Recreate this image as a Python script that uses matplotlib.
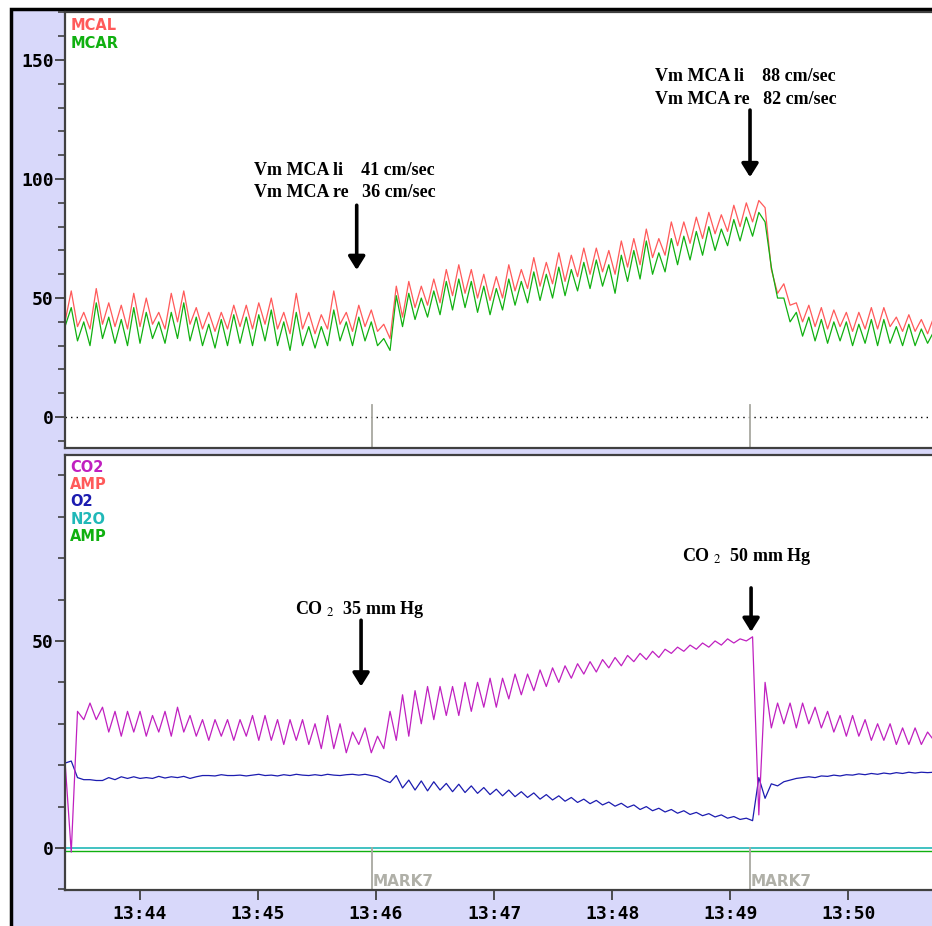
import matplotlib
matplotlib.use("Agg")
import matplotlib.pyplot as plt
from matplotlib.patches import Rectangle
from matplotlib.ticker import MultipleLocator, FuncFormatter
import numpy as np

# Muestreo: un valor cada medio ciclo respiratorio (minutos desde las 13:00)
T0 = 43.364
DT = 0.05297

# Velocidad media ACM izquierda / derecha (cm/s)
mcal = [40, 53, 38, 44, 37, 54, 39, 48, 38, 47,
        37, 52, 38, 50, 39, 44, 37, 52, 40, 53,
        39, 46, 37, 44, 36, 44, 37, 47, 38, 47,
        37, 48, 39, 50, 37, 44, 35, 52, 37, 44,
        35, 43, 37, 53, 39, 44, 36, 47, 38, 45,
        36, 39, 33,
        55, 42, 57, 46, 55, 47, 58, 48, 62, 51, 64, 52, 62, 50, 60, 49,
        59, 50, 64, 53, 62, 54, 67, 55, 65, 56, 69, 57, 68, 59, 71, 60,
        71, 61, 70, 60, 74, 63, 75, 64, 79, 67,
        75, 68, 82, 72, 82, 73, 84, 75, 86, 77, 85, 78, 89, 80, 90, 82,
        91, 88, 62, 52, 56, 47, 48, 40, 47, 38, 46, 37, 45, 38, 44, 36,
        44, 37, 46, 37, 46, 38, 42, 36, 43, 36, 41, 35, 42]
mcar = [38, 46, 32, 40, 30, 48, 33, 42, 31, 41,
        30, 46, 31, 44, 33, 40, 31, 44, 33, 48,
        32, 42, 30, 39, 29, 41, 30, 43, 31, 42,
        30, 43, 32, 45, 30, 40, 28, 44, 30, 38,
        29, 38, 30, 45, 32, 40, 30, 42, 32, 40,
        30, 33, 28,
        51, 38, 52, 41, 50, 42, 53, 43, 57, 45, 58, 46, 57, 44, 55, 43,
        54, 45, 58, 47, 57, 48, 61, 49, 60, 50, 63, 51, 62, 53, 65, 54,
        66, 55, 64, 52, 68, 57, 70, 58, 74, 60,
        69, 61, 75, 64, 76, 66, 78, 68, 80, 70, 79, 72, 83, 74, 84, 76,
        86, 82, 63, 50, 50, 40, 44, 34, 42, 32, 41, 31, 40, 32, 40, 30,
        39, 31, 41, 30, 41, 31, 38, 30, 39, 30, 37, 31, 36]

# Gases (mm Hg / %)
co2 = [21, -1, 33, 31, 35, 31, 34, 28, 33, 27,
       33, 28, 33, 27, 32, 28, 33, 27, 34, 28,
       32, 27, 31, 26, 31, 27, 31, 26, 31, 27,
       32, 26, 32, 26, 31, 25, 31, 26, 31, 25,
       30, 24, 32, 24, 30, 23, 28, 25, 29, 23,
       27, 24, 33,
       26, 37, 27, 38, 30, 39, 31, 39, 32, 39,
       32, 40, 33, 40, 34, 41, 34, 41, 36, 42,
       37, 42, 38, 43, 39, 43.5, 40, 44, 41, 44.5,
       42, 45, 42.5, 45.5, 43.5, 46, 44, 46.5, 45, 47,
       45.5, 47.5, 46, 48, 47, 48.5, 47.5, 49, 48, 49.5,
       48.5, 50, 49, 50.5, 49.5, 50.5, 50, 51,
       8, 40, 29, 35, 30, 35, 29, 35, 30, 34,
       29, 33, 28, 32, 27, 32, 27, 31, 26, 30,
       26, 30, 25, 29, 25, 29, 25, 28, 26]
o2 = [20.5, 21, 17, 16.5, 16.5, 16.3, 16.3, 17, 16.5, 17.2,
      16.8, 17.2, 16.8, 17, 16.8, 17.3, 16.9, 17.2, 17, 17.3,
      16.8, 17.2, 17.5, 17.5, 17.4, 17.7, 17.5, 17.5, 17.6, 17.4,
      17.6, 17.8, 17.5, 17.6, 17.4, 17.7, 17.5, 17.8, 17.6, 17.5,
      17.7, 17.5, 17.8, 17.6, 17.5, 17.7, 17.8, 17.6, 17.8, 17.5,
      17.2, 16.4, 15.8, 17.5, 14.5, 16.4, 14, 16.2, 13.8, 16,
      14, 15.6, 13.6, 15.4, 13.4, 15, 13.2, 14.6, 12.9, 14.2,
      12.6, 14, 12.4, 13.6, 12.2, 13.3, 11.8, 12.9, 11.6, 12.6,
      11.3, 12.2, 11, 11.8, 10.7, 11.5, 10.4, 11.1, 10.1, 10.8,
      9.8, 10.4, 9.3, 10, 9, 9.6, 8.7, 9.3, 8.4, 9,
      8.1, 8.6, 7.8, 8.3, 7.5, 8, 7.2, 7.6, 6.9, 7.2,
      6.6, 17, 12, 15.5, 15, 16, 16.4, 16.8, 17, 17.2,
      17, 17.4, 17.3, 17.6, 17.4, 17.7, 17.6, 17.9, 17.7, 18,
      17.8, 18.1, 17.9, 18.2, 18, 18.3, 18.1, 18.3, 18.2, 18.3]
n2o_nivel = 0.0
amp_nivel = -0.8

marcas = [45.966, 49.169]
etiquetas_sup = ["MCAL", "MCAR"]
colores_sup = ["#ff5a5a", "#10b010"]
etiquetas_inf = ["CO2", "AMP", "O2", "N2O", "AMP"]
colores_inf = ["#c020c0", "#ff5a5a", "#1c1cb0", "#20b8b8", "#10b010"]

plt.rcParams["mathtext.fontset"] = "stix"

t = T0 + DT * np.arange(len(mcal))

fig = plt.figure(figsize=(9.32, 9.26), dpi=100)
fondo = Rectangle((11 / 932, -0.02), 1.1, (926 - 9) / 926 + 0.02,
                  transform=fig.transFigure, facecolor="#d8d8fa",
                  edgecolor="black", lw=2.5, zorder=-5)
fig.patches.append(fondo)

ax1 = fig.add_axes([65 / 932, 478 / 926, 875 / 932, 436 / 926])
ax2 = fig.add_axes([65 / 932, 36 / 926, 875 / 932, 435 / 926])

mono = "DejaVu Sans Mono"
sans = "DejaVu Sans"
serif = "Liberation Serif"

for ax in (ax1, ax2):
    ax.set_zorder(2)
    ax.set_facecolor("white")
    ax.set_xlim(43.364, 50.779)
    for s in ax.spines.values():
        s.set_color("#404040")
        s.set_linewidth(1.6)
    ax.yaxis.set_major_locator(MultipleLocator(50))
    ax.yaxis.set_minor_locator(MultipleLocator(10))
    ax.tick_params(axis="y", which="major", length=7, width=1.3, color="#404040",
                   labelsize=13, pad=1)
    ax.tick_params(axis="y", which="minor", length=5, width=1.2, color="#404040")

# Panel superior
ax1.set_ylim(-13.0, 170.2)
ax1.plot(t, mcal, color=colores_sup[0], lw=0.9)
ax1.plot(t, mcar, color=colores_sup[1], lw=0.9)
ax1.axhline(0, color="black", lw=1, ls=(0, (1, 3)))
ax1.set_xticks([])
for m in marcas:
    ax1.axvline(m, ymin=0, ymax=0.099, color="#a8a8a0", lw=1.3)
for i, (et, c) in enumerate(zip(etiquetas_sup, colores_sup)):
    ax1.text(0.006, 0.970 - i * 0.043, et, transform=ax1.transAxes, color=c,
             fontfamily=sans, fontweight="bold", fontsize=10.5, va="center")
for lab in ax1.get_yticklabels():
    lab.set_fontfamily(mono)
    lab.set_fontweight("bold")

# Panel inferior
ax2.set_ylim(-10.14, 94.9)
ax2.axhline(n2o_nivel, color=colores_inf[3], lw=1.2)
ax2.axhline(amp_nivel, color=colores_inf[4], lw=1.0)
ax2.plot(t, o2, color=colores_inf[2], lw=0.9)
ax2.plot(t, co2, color=colores_inf[0], lw=0.9)
ax2.xaxis.set_major_locator(MultipleLocator(1))
ax2.xaxis.set_major_formatter(FuncFormatter(lambda v, p: f"13:{int(round(v)):02d}"))
ax2.tick_params(axis="x", length=7, width=1.3, color="#404040", labelsize=13, pad=4)
for lab in ax2.get_xticklabels() + ax2.get_yticklabels():
    lab.set_fontfamily(mono)
    lab.set_fontweight("bold")
for m in marcas:
    ax2.axvline(m, ymin=0, ymax=0.097, color="#a8a8a0", lw=1.3)
    ax2.text(m + 0.004, -9.8, "MARK7", color="#b0b0a8", fontfamily=sans,
             fontweight="bold", fontsize=11, va="bottom", ha="left")
for i, (et, c) in enumerate(zip(etiquetas_inf, colores_inf)):
    ax2.text(0.006, 0.972 - i * 0.040, et, transform=ax2.transAxes, color=c,
             fontfamily=sans, fontweight="bold", fontsize=10.5, va="center")

# Anotaciones
flecha = dict(arrowstyle="-|>,head_width=0.5,head_length=0.8", color="black",
              lw=2.6, shrinkA=0, shrinkB=0)
ax1.annotate("", xy=(45.836, 61.8), xytext=(45.836, 89), arrowprops=flecha)
ax1.annotate("", xy=(49.169, 100.8), xytext=(49.169, 129), arrowprops=flecha)
ax2.annotate("", xy=(45.873, 39), xytext=(45.873, 55), arrowprops=flecha)
ax2.annotate("", xy=(49.178, 52.2), xytext=(49.178, 62.8), arrowprops=flecha)

txt = dict(fontfamily=serif, fontweight="bold", fontsize=13, va="center", ha="left")
ax1.text(44.967, 103.8, "Vm MCA li    41 cm/sec", **txt)
ax1.text(44.967, 94.5, "Vm MCA re   36 cm/sec", **txt)
ax1.text(48.364, 142.9, "Vm MCA li    88 cm/sec", **txt)
ax1.text(48.364, 133.6, "Vm MCA re   82 cm/sec", **txt)

ax2.text(45.31, 57.5, r"CO $_{2}$  35 mm Hg", **txt)
ax2.text(48.59, 70.5, r"CO $_{2}$  50 mm Hg", **txt)

fig.savefig("out.png", dpi=100)
